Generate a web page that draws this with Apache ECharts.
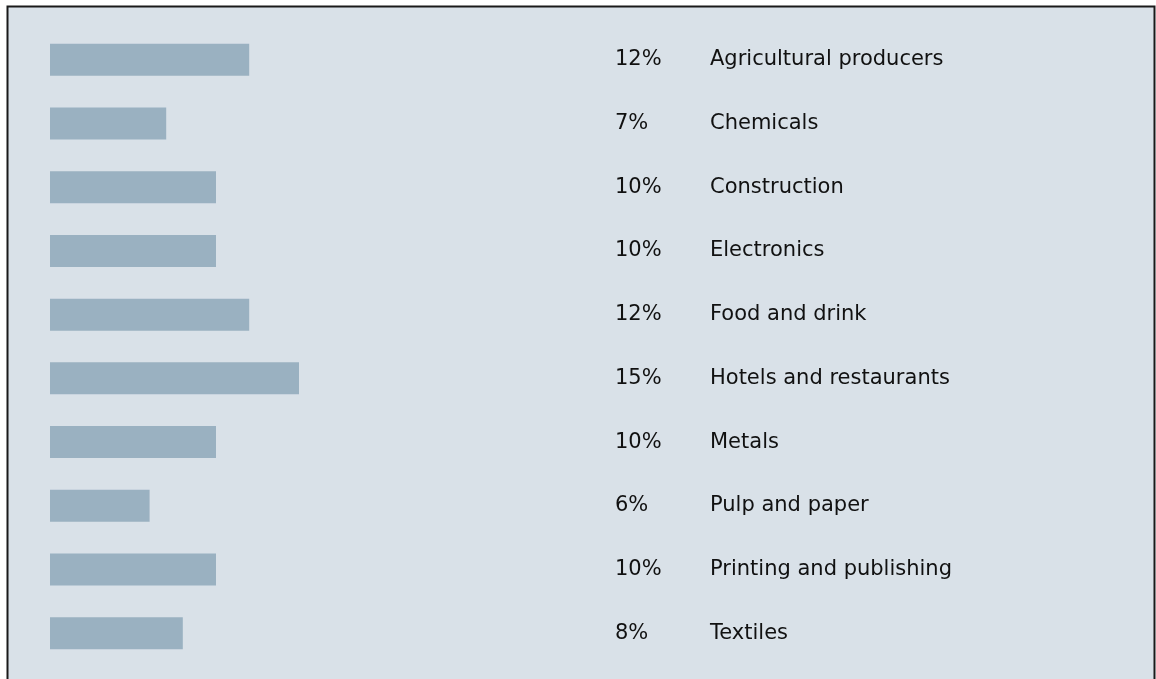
<!DOCTYPE html>
<html>
<head>
<meta charset="utf-8">
<script src="https://cdn.jsdelivr.net/npm/echarts@6/dist/echarts.min.js"></script>
<style>
  html, body { margin: 0; padding: 0; background: #ffffff; }
  #chart { width: 1156px; height: 679px; }
</style>
</head>
<body>
<div id="chart"></div>
<script>
// Share of firms by industry sector
const categories = [
  'Agricultural producers', 'Chemicals', 'Construction', 'Electronics',
  'Food and drink', 'Hotels and restaurants', 'Metals', 'Pulp and paper',
  'Printing and publishing', 'Textiles'
];
const shares = [12, 7, 10, 10, 12, 15, 10, 6, 10, 8];

const chart = echarts.init(document.getElementById('chart'), null, { renderer: 'canvas' });

const textFont = 'DejaVu Sans';
const textSize = 21;

chart.setOption({
  backgroundColor: '#ffffff',
  animation: false,
  graphic: [{
    type: 'rect',
    z: -10,
    shape: { x: 7.5, y: 6.5, width: 1147, height: 690 },
    style: { fill: '#d9e1e8', stroke: '#1a1a1a', lineWidth: 2 }
  }],
  grid: { left: 50, right: 608, top: 28, bottom: 14, containLabel: false },
  xAxis: {
    type: 'value', min: 0, max: 30,
    show: false
  },
  yAxis: [{
    type: 'category', data: categories, inverse: true,
    position: 'right',
    axisLine: { show: false }, axisTick: { show: false }, splitLine: { show: false },
    axisLabel: {
      margin: 67,
      align: 'left',
      formatter: (name, idx) => `{p|${shares[idx]}%}{n|${name}}`,
      rich: {
        p: { width: 95, fontFamily: textFont, fontSize: textSize, color: '#111111' },
        n: { fontFamily: textFont, fontSize: textSize, color: '#111111' }
      }
    }
  }],
  series: [{
    type: 'bar',
    data: shares,
    barWidth: 32,
    itemStyle: { color: '#9ab1c1' },
    silent: true
  }]
});
</script>
</body>
</html>
